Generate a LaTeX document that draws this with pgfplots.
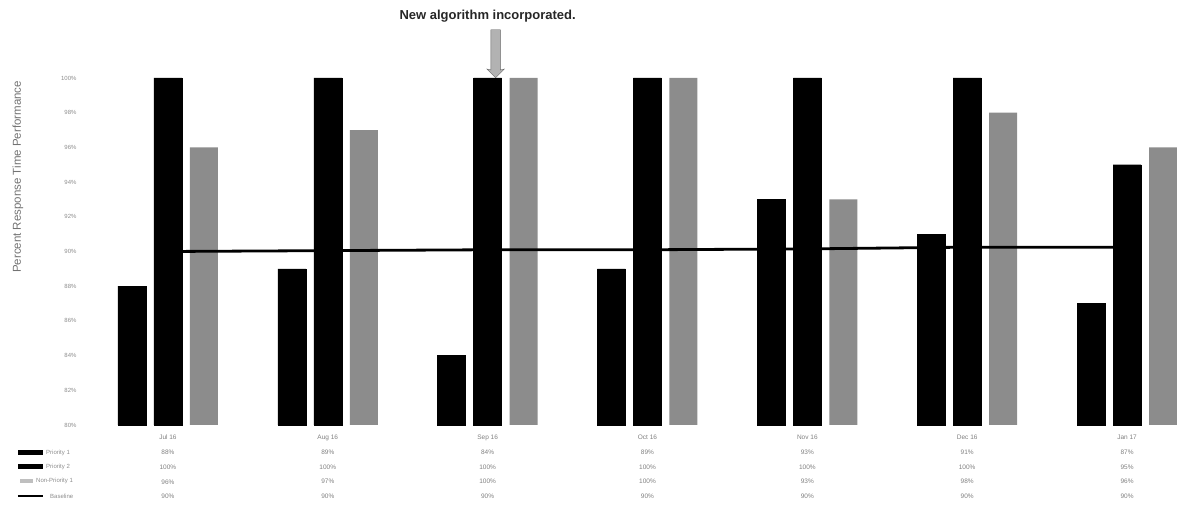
\documentclass[border=0pt]{standalone}
\usepackage{pgfplots}
\pgfplotsset{compat=1.18}
\usepackage{fontspec}
\setmainfont{Liberation Sans}
\usetikzlibrary{shapes.arrows}
\begin{document}
\begin{tikzpicture}[x=1pt,y=1pt]
\begin{axis}[
  at={(0,0)}, anchor=south west,
  scale only axis, width=1089pt, height=347pt,
  xmin=-0.5, xmax=6.3125, ymin=80, ymax=100,
  clip=false,
  axis line style={draw=none},
  major tick length=0pt,
  ytick={80,82,...,100},
  yticklabels={80\%,82\%,84\%,86\%,88\%,90\%,92\%,94\%,96\%,98\%,100\%},
  yticklabel style={font=\fontsize{6}{7}\selectfont, text=black!45, xshift=-8pt},
  xtick={0,...,6},
  xticklabels={
    {Jul 16\\88\%\\100\%\\96\%\\90\%},
    {Aug 16\\89\%\\100\%\\97\%\\90\%},
    {Sep 16\\84\%\\100\%\\100\%\\90\%},
    {Oct 16\\89\%\\100\%\\100\%\\90\%},
    {Nov 16\\93\%\\100\%\\93\%\\90\%},
    {Dec 16\\91\%\\100\%\\98\%\\90\%},
    {Jan 17\\87\%\\95\%\\96\%\\90\%}},
  xticklabel style={font=\fontsize{6.5}{14.8}\selectfont, text=black!50, align=center, anchor=north, yshift=-6.5pt},
  ylabel={Percent Response Time Performance},
  ylabel style={at={(axis description cs:-0.0643,0.715)}, anchor=center, font=\fontsize{11.5}{13}\selectfont, text=black!55},
]
\addplot[ybar, bar width=28pt, bar shift=-36pt, fill=black, draw=black] coordinates {(0,88) (1,89) (2,84) (3,89) (4,93) (5,91) (6,87)};
\addplot[ybar, bar width=28pt, bar shift=0pt, fill=black, draw=black] coordinates {(0,100) (1,100) (2,100) (3,100) (4,100) (5,100) (6,95)};
\addplot[ybar, bar width=28pt, bar shift=36pt, fill=black!45, draw=none] coordinates {(0,96) (1,97) (2,100) (3,100) (4,93) (5,98) (6,96)};
\addplot[black, line width=2.8pt, mark=none] coordinates {(0,90.0) (1,90.05) (2,90.1) (3,90.1) (4,90.15) (5,90.25) (6,90.25)};
\node[font=\fontsize{13}{15}\selectfont\bfseries, text=black!85] at (axis cs:2,100) [yshift=62pt] {New algorithm incorporated.};
\node[single arrow, draw=black!60, fill=black!30, rotate=-90, minimum height=48pt, inner sep=4.5pt, single arrow head extend=4pt, single arrow head indent=1pt, anchor=tip] at (axis cs:2,100) [yshift=8pt] {};
\end{axis}
% legend of the data table
\fill[black] (-70pt,-30pt) rectangle (-45pt,-25pt);
\node[anchor=west, font=\fontsize{6}{7}\selectfont, text=black!45, inner sep=0pt] at (-42pt,-27.5pt) {Priority 1};
\fill[black] (-70pt,-44.5pt) rectangle (-45pt,-39.5pt);
\node[anchor=west, font=\fontsize{6}{7}\selectfont, text=black!45, inner sep=0pt] at (-42pt,-42pt) {Priority 2};
\fill[black!25] (-68pt,-58pt) rectangle (-55pt,-54.5pt);
\node[anchor=west, font=\fontsize{6}{7}\selectfont, text=black!45, inner sep=0pt] at (-52pt,-56.3pt) {Non-Priority 1};
\draw[black, line width=2.8pt] (-70pt,-71pt) -- (-45pt,-71pt);
\node[anchor=west, font=\fontsize{6}{7}\selectfont, text=black!45, inner sep=0pt] at (-38pt,-71pt) {Baseline};
\pgfresetboundingbox
\path (-88pt,-83pt) rectangle (1089pt,425pt);
\end{tikzpicture}
\end{document}
